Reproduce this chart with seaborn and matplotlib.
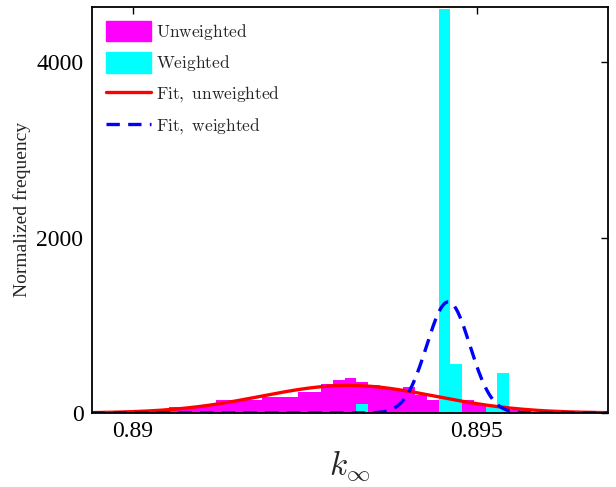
import numpy as np
import pandas as pd
import matplotlib
matplotlib.use("Agg")
import matplotlib.pyplot as plt
import seaborn as sns
from matplotlib.patches import Patch
from matplotlib.lines import Line2D

# ---------------- data ----------------
bin_start = 0.889492          # left edge of the first bin
bin_width = 0.0001708         # histogram bin width
n_bins = 43

unweighted_freq = [0, 5, 10, 15, 20, 42, 70, 62, 70, 80,
                   148, 148, 150, 150, 178, 180, 185, 240, 243, 330,
                   375, 400, 355, 320, 290, 270, 300, 200, 150, 180,
                   160, 145, 88, 50, 40, 35, 15, 10, 8, 5,
                   3, 2, 0]
weighted_freq = [0, 0, 0, 0, 0, 0, 0, 0, 0, 0,
                 0, 0, 0, 0, 0, 0, 0, 0, 0, 0,
                 0, 0, 100, 0, 0, 0, 0, 0, 0, 4600,
                 560, 0, 0, 65, 455, 0, 0, 0, 0, 0,
                 0, 0, 0]

# Gaussian fit parameters (mean, standard deviation)
fit_unweighted = (0.89313, 0.00127)
fit_weighted = (0.894587, 0.000315)

x_ticks = [0.89, 0.895]
x_ticklabels = ["0.89", "0.895"]
y_ticks = [0, 2000, 4000]
x_limits = (0.8894, 0.89691)
y_limits = (0, 4630)

# ---------------- build tables ----------------
edges = bin_start + bin_width * np.arange(n_bins + 1)
centers = 0.5 * (edges[:-1] + edges[1:])
hist_df = pd.DataFrame({"k": centers,
                        "unweighted": unweighted_freq,
                        "weighted": weighted_freq})

xs = np.linspace(x_limits[0], x_limits[1], 600)
def normal_pdf(x, mu, sd):
    return np.exp(-0.5 * ((x - mu) / sd) ** 2) / (sd * np.sqrt(2 * np.pi))
fit_df = pd.DataFrame({"k": xs,
                       "fit_u": normal_pdf(xs, *fit_unweighted),
                       "fit_w": normal_pdf(xs, *fit_weighted)})

# ---------------- style ----------------
sns.set_style("white")
plt.rcParams["font.family"] = ["Liberation Serif", "DejaVu Serif"]
plt.rcParams["mathtext.fontset"] = "cm"

fig = plt.figure(figsize=(6.16, 4.87), dpi=100)
ax = fig.add_axes([0.149, 0.152, 0.838, 0.834])

brange = (float(edges[0]), float(edges[-1]))
sns.histplot(data=hist_df, x="k", weights="unweighted", bins=n_bins,
             binrange=brange, color="#FF00FF", alpha=1, edgecolor="none",
             linewidth=0, ax=ax, legend=False)
sns.histplot(data=hist_df, x="k", weights="weighted", bins=n_bins,
             binrange=brange, color="#00FFFF", alpha=1, edgecolor="none",
             linewidth=0, ax=ax, legend=False)
sns.lineplot(data=fit_df, x="k", y="fit_u", color="#FF0000", lw=2.4, ax=ax)
sns.lineplot(data=fit_df, x="k", y="fit_w", color="#0000FF", lw=2.4,
             ax=ax, linestyle=(0, (4, 2.5)))

ax.set_xlim(*x_limits)
ax.set_ylim(*y_limits)
ax.set_xticks(x_ticks)
ax.set_xticklabels(x_ticklabels)
ax.set_yticks(y_ticks)
ax.tick_params(direction="in", top=True, right=True, length=5, width=1,
               labelsize=17, pad=6, colors="black")
for s in ax.spines.values():
    s.set_color("black")
    s.set_linewidth(1.3)

ax.set_xlabel(r"$k_\infty$", fontsize=24, labelpad=4)
ax.set_ylabel("Normalized frequency", fontsize=14, labelpad=4)

handles = [Patch(facecolor="#FF00FF", edgecolor="#FF00FF"),
           Patch(facecolor="#00FFFF", edgecolor="#00FFFF"),
           Line2D([0], [0], color="#FF0000", lw=2.4),
           Line2D([0], [0], color="#0000FF", lw=2.4, linestyle=(0, (4, 2.5)))]
labels = [r"$\mathrm{Unweighted}$", r"$\mathrm{Weighted}$",
          r"$\mathrm{Fit,\ unweighted}$", r"$\mathrm{Fit,\ weighted}$"]
leg = ax.legend(handles, labels, loc="upper left", frameon=False,
                fontsize=12.5, handlelength=2.6, handleheight=1.45,
                labelspacing=0.6, handletextpad=0.3,
                borderaxespad=0.4, bbox_to_anchor=(0.0, 1.0))

fig.savefig("out.png", dpi=100)
